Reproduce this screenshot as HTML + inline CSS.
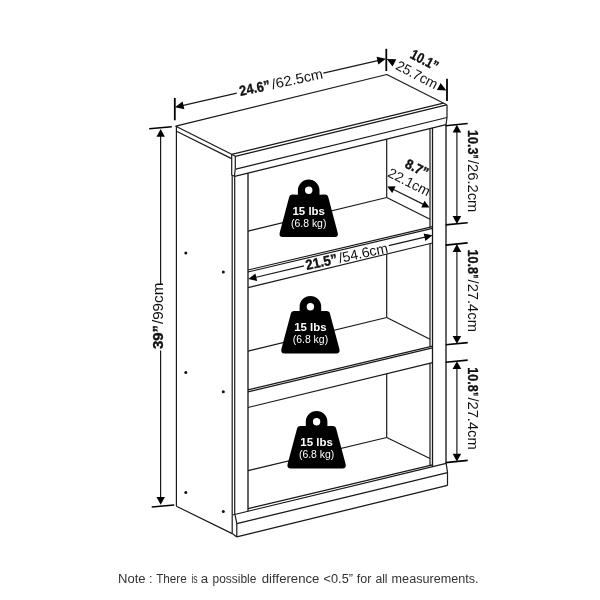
<!DOCTYPE html>
<html><head><meta charset="utf-8"><title>Bookcase dimensions</title>
<style>
html,body{margin:0;padding:0;background:#fff;}
body{width:600px;height:600px;overflow:hidden;font-family:"Liberation Sans",sans-serif;}
svg{display:block;}
svg text{font-family:"Liberation Sans",sans-serif;}
</style></head><body>
<svg width="600" height="600" viewBox="0 0 600 600">
<rect width="600" height="600" fill="#fff"/>
<g opacity="0.999">
<polyline points="231.70,154.30 175.80,126.20 386.80,74.50 446.70,104.80" fill="none" stroke="#1a1a1a" stroke-width="1.2" stroke-linejoin="round"/>
<line x1="231.70" y1="154.30" x2="443.40" y2="103.10" stroke="#1a1a1a" stroke-width="1.2"/>
<line x1="176.50" y1="131.20" x2="231.60" y2="158.60" stroke="#1a1a1a" stroke-width="1.2"/>
<polyline points="231.70,154.30 235.30,156.30 446.70,104.80" fill="none" stroke="#1a1a1a" stroke-width="1.2" stroke-linejoin="round"/>
<polyline points="235.30,156.30 235.30,168.80 234.40,176.20" fill="none" stroke="#1a1a1a" stroke-width="1.2" stroke-linejoin="round"/>
<line x1="235.80" y1="169.10" x2="447.00" y2="117.50" stroke="#1a1a1a" stroke-width="1.2"/>
<polyline points="231.70,154.30 231.70,175.00 234.70,176.30 446.00,124.70" fill="none" stroke="#1a1a1a" stroke-width="1.2" stroke-linejoin="round"/>
<polyline points="447.00,104.80 447.00,117.50 446.00,124.70" fill="none" stroke="#1a1a1a" stroke-width="1.2" stroke-linejoin="round"/>
<line x1="176.40" y1="126.20" x2="176.40" y2="506.20" stroke="#1a1a1a" stroke-width="1.2"/>
<line x1="176.40" y1="506.20" x2="232.20" y2="533.60" stroke="#1a1a1a" stroke-width="1.2"/>
<line x1="232.20" y1="175.20" x2="232.20" y2="533.60" stroke="#1a1a1a" stroke-width="1.2"/>
<line x1="234.70" y1="176.30" x2="234.70" y2="514.40" stroke="#1a1a1a" stroke-width="1.2"/>
<line x1="248.00" y1="173.00" x2="248.00" y2="511.20" stroke="#1a1a1a" stroke-width="1.35"/>
<line x1="432.50" y1="128.00" x2="432.50" y2="466.60" stroke="#1a1a1a" stroke-width="1.3"/>
<line x1="446.00" y1="124.70" x2="446.00" y2="463.40" stroke="#1a1a1a" stroke-width="1.35"/>
<line x1="386.70" y1="139.18" x2="386.70" y2="197.50" stroke="#1a1a1a" stroke-width="1.2"/>
<line x1="386.70" y1="254.10" x2="386.70" y2="317.50" stroke="#1a1a1a" stroke-width="1.2"/>
<line x1="386.70" y1="373.75" x2="386.70" y2="437.50" stroke="#1a1a1a" stroke-width="1.2"/>
<line x1="430.00" y1="128.61" x2="430.00" y2="227.29" stroke="#1a1a1a" stroke-width="1.2"/>
<line x1="430.00" y1="243.61" x2="430.00" y2="346.79" stroke="#1a1a1a" stroke-width="1.2"/>
<line x1="430.00" y1="363.21" x2="430.00" y2="465.49" stroke="#1a1a1a" stroke-width="1.2"/>
<line x1="248.00" y1="231.10" x2="386.70" y2="197.50" stroke="#1a1a1a" stroke-width="1.2"/>
<line x1="386.70" y1="197.50" x2="430.00" y2="219.30" stroke="#1a1a1a" stroke-width="1.2"/>
<line x1="248.00" y1="270.00" x2="432.50" y2="226.70" stroke="#1a1a1a" stroke-width="1.2"/>
<line x1="248.00" y1="272.00" x2="432.50" y2="228.40" stroke="#1a1a1a" stroke-width="1.2"/>
<line x1="248.00" y1="287.70" x2="432.50" y2="243.00" stroke="#1a1a1a" stroke-width="1.2"/>
<line x1="248.00" y1="351.10" x2="386.70" y2="317.50" stroke="#1a1a1a" stroke-width="1.2"/>
<line x1="386.70" y1="317.50" x2="430.00" y2="339.20" stroke="#1a1a1a" stroke-width="1.2"/>
<line x1="248.00" y1="389.80" x2="432.50" y2="346.20" stroke="#1a1a1a" stroke-width="1.2"/>
<line x1="248.00" y1="391.80" x2="432.50" y2="347.90" stroke="#1a1a1a" stroke-width="1.2"/>
<line x1="248.00" y1="407.50" x2="432.50" y2="362.60" stroke="#1a1a1a" stroke-width="1.2"/>
<line x1="248.00" y1="470.70" x2="386.70" y2="437.50" stroke="#1a1a1a" stroke-width="1.2"/>
<line x1="386.70" y1="437.50" x2="430.00" y2="458.50" stroke="#1a1a1a" stroke-width="1.2"/>
<line x1="248.00" y1="508.70" x2="432.50" y2="464.90" stroke="#1a1a1a" stroke-width="1.2"/>
<line x1="232.50" y1="515.00" x2="446.20" y2="463.40" stroke="#1a1a1a" stroke-width="1.2"/>
<polyline points="235.00,514.60 236.80,523.60 236.80,536.90" fill="none" stroke="#1a1a1a" stroke-width="1.2" stroke-linejoin="round"/>
<line x1="236.80" y1="523.60" x2="447.50" y2="472.60" stroke="#1a1a1a" stroke-width="1.2"/>
<line x1="236.80" y1="536.90" x2="447.50" y2="485.40" stroke="#1a1a1a" stroke-width="1.2"/>
<line x1="232.20" y1="533.60" x2="236.80" y2="536.90" stroke="#1a1a1a" stroke-width="1.2"/>
<polyline points="446.20,463.40 447.50,472.60 447.50,485.40" fill="none" stroke="#1a1a1a" stroke-width="1.2" stroke-linejoin="round"/>
<circle cx="185.8" cy="253" r="1.5" fill="#111"/>
<circle cx="223.3" cy="272" r="1.5" fill="#111"/>
<circle cx="185.8" cy="372.5" r="1.5" fill="#111"/>
<circle cx="223.3" cy="391.7" r="1.5" fill="#111"/>
<circle cx="185.8" cy="492.5" r="1.5" fill="#111"/>
<circle cx="223.3" cy="511.5" r="1.5" fill="#111"/>
<line x1="160.60" y1="134.00" x2="160.60" y2="284.20" stroke="#1a1a1a" stroke-width="1.2"/>
<line x1="160.60" y1="350.40" x2="160.60" y2="499.00" stroke="#1a1a1a" stroke-width="1.2"/>
<polygon points="160.70,129.00 164.90,136.80 156.50,136.80" fill="#000"/>
<polygon points="160.70,504.70 156.50,496.90 164.90,496.90" fill="#000"/>
<line x1="149.20" y1="128.70" x2="171.80" y2="126.80" stroke="#000" stroke-width="1.6"/>
<line x1="151.70" y1="507.00" x2="174.20" y2="505.00" stroke="#000" stroke-width="1.6"/>
<line x1="179.00" y1="106.36" x2="236.80" y2="93.05" stroke="#1a1a1a" stroke-width="1.2"/>
<line x1="323.30" y1="73.13" x2="381.00" y2="59.85" stroke="#1a1a1a" stroke-width="1.2"/>
<polygon points="174.90,107.30 182.58,101.43 184.37,109.22" fill="#000"/>
<polygon points="386.00,58.70 378.32,64.57 376.53,56.78" fill="#000"/>
<line x1="174.80" y1="98.00" x2="174.80" y2="120.30" stroke="#000" stroke-width="1.8"/>
<line x1="386.30" y1="48.80" x2="386.30" y2="71.00" stroke="#000" stroke-width="1.8"/>
<polygon points="386.80,58.90 396.27,59.34 392.56,66.43" fill="#000"/>
<polygon points="446.40,90.50 436.93,90.06 440.64,82.97" fill="#000"/>
<line x1="447.00" y1="78.70" x2="447.00" y2="101.00" stroke="#000" stroke-width="1.8"/>
<line x1="391.00" y1="188.24" x2="426.00" y2="205.66" stroke="#1a1a1a" stroke-width="1.2"/>
<polygon points="387.30,186.40 395.62,186.29 392.23,193.10" fill="#000"/>
<polygon points="429.50,207.40 421.18,207.51 424.57,200.70" fill="#000"/>
<line x1="253.00" y1="277.98" x2="304.00" y2="265.86" stroke="#1a1a1a" stroke-width="1.2"/>
<line x1="388.80" y1="245.69" x2="428.00" y2="236.37" stroke="#1a1a1a" stroke-width="1.2"/>
<polygon points="248.30,279.10 255.40,273.51 257.16,280.90" fill="#000"/>
<polygon points="432.50,235.30 425.40,240.89 423.64,233.50" fill="#000"/>
<line x1="456.90" y1="128.70" x2="456.90" y2="219.90" stroke="#1a1a1a" stroke-width="1.2"/>
<polygon points="456.90,124.70 461.20,132.50 452.60,132.50" fill="#000"/>
<polygon points="456.90,223.90 452.60,216.10 461.20,216.10" fill="#000"/>
<line x1="445.60" y1="125.70" x2="467.70" y2="123.50" stroke="#000" stroke-width="1.6"/>
<line x1="445.60" y1="224.90" x2="467.70" y2="222.70" stroke="#000" stroke-width="1.6"/>
<line x1="456.90" y1="248.10" x2="456.90" y2="339.80" stroke="#1a1a1a" stroke-width="1.2"/>
<polygon points="456.90,244.10 461.20,251.90 452.60,251.90" fill="#000"/>
<polygon points="456.90,343.80 452.60,336.00 461.20,336.00" fill="#000"/>
<line x1="445.60" y1="245.10" x2="467.70" y2="242.90" stroke="#000" stroke-width="1.6"/>
<line x1="445.60" y1="344.80" x2="467.70" y2="342.60" stroke="#000" stroke-width="1.6"/>
<line x1="456.90" y1="365.30" x2="456.90" y2="457.60" stroke="#1a1a1a" stroke-width="1.2"/>
<polygon points="456.90,361.30 461.20,369.10 452.60,369.10" fill="#000"/>
<polygon points="456.90,461.60 452.60,453.80 461.20,453.80" fill="#000"/>
<line x1="445.60" y1="362.30" x2="467.70" y2="360.10" stroke="#000" stroke-width="1.6"/>
<line x1="445.60" y1="462.60" x2="467.70" y2="460.40" stroke="#000" stroke-width="1.6"/>
<g transform="translate(308.7,190.3)"><path d="M-10.8,4.4 L-10.8,0 A10.8,10.8 0 0 1 10.8,0 L10.8,4.4 L16.2,4.2 Q19,4.2 19.6,7.0 L29.0,42.4 Q30.0,46.8 26,46.8 L-26,46.8 Q-30.0,46.8 -29.0,42.4 L-19.6,7.0 Q-19,4.2 -16.2,4.2 Z" fill="#000"/><circle cx="0" cy="0" r="3.7" fill="#fff"/><text x="0" y="24.5" text-anchor="middle" font-weight="bold" font-size="11.5" fill="#fff" textLength="32.5" lengthAdjust="spacingAndGlyphs">15 lbs</text><text x="0" y="36.3" text-anchor="middle" font-size="10" fill="#fff" textLength="35.4" lengthAdjust="spacingAndGlyphs">(6.8 kg)</text></g>
<g transform="translate(310.4,306.7)"><path d="M-10.8,4.4 L-10.8,0 A10.8,10.8 0 0 1 10.8,0 L10.8,4.4 L16.2,4.2 Q19,4.2 19.6,7.0 L29.0,42.4 Q30.0,46.8 26,46.8 L-26,46.8 Q-30.0,46.8 -29.0,42.4 L-19.6,7.0 Q-19,4.2 -16.2,4.2 Z" fill="#000"/><circle cx="0" cy="0" r="3.7" fill="#fff"/><text x="0" y="24.5" text-anchor="middle" font-weight="bold" font-size="11.5" fill="#fff" textLength="32.5" lengthAdjust="spacingAndGlyphs">15 lbs</text><text x="0" y="36.3" text-anchor="middle" font-size="10" fill="#fff" textLength="35.4" lengthAdjust="spacingAndGlyphs">(6.8 kg)</text></g>
<g transform="translate(316.6,421.7)"><path d="M-10.8,4.4 L-10.8,0 A10.8,10.8 0 0 1 10.8,0 L10.8,4.4 L16.2,4.2 Q19,4.2 19.6,7.0 L29.0,42.4 Q30.0,46.8 26,46.8 L-26,46.8 Q-30.0,46.8 -29.0,42.4 L-19.6,7.0 Q-19,4.2 -16.2,4.2 Z" fill="#000"/><circle cx="0" cy="0" r="3.7" fill="#fff"/><text x="0" y="24.5" text-anchor="middle" font-weight="bold" font-size="11.5" fill="#fff" textLength="32.5" lengthAdjust="spacingAndGlyphs">15 lbs</text><text x="0" y="36.3" text-anchor="middle" font-size="10" fill="#fff" textLength="35.4" lengthAdjust="spacingAndGlyphs">(6.8 kg)</text></g>
<g transform="translate(240.6,96.1) rotate(-12.2)"><text x="0" y="0" font-weight="bold" font-size="14.2" fill="#111" stroke="#111" stroke-width="0.35" lengthAdjust="spacingAndGlyphs" textLength="31">24.6&#8221;</text><text x="33.0" y="0" font-size="14.2" fill="#111" textLength="52" lengthAdjust="spacingAndGlyphs">/62.5cm</text></g>
<g transform="translate(306.8,270.1) rotate(-12.2)"><text x="0" y="0" font-weight="bold" font-size="14.2" fill="#111" stroke="#111" stroke-width="0.35" lengthAdjust="spacingAndGlyphs" textLength="32">21.5&#8221;</text><text x="33.6" y="0" font-size="14.2" fill="#111" textLength="50.2" lengthAdjust="spacingAndGlyphs">/54.6cm</text></g>
<g transform="translate(163.3,349.1) rotate(-90)"><text x="0" y="0" font-weight="bold" font-size="13.8" fill="#111" stroke="#111" stroke-width="0.35" lengthAdjust="spacingAndGlyphs" textLength="24">39&#8221;</text><text x="25.0" y="0" font-size="13.8" fill="#111" textLength="41.5" lengthAdjust="spacingAndGlyphs">/99cm</text></g>
<g transform="translate(468.4,129.9) rotate(90)"><text x="0" y="0" font-weight="bold" font-size="14.2" fill="#111" stroke="#111" stroke-width="0.35" lengthAdjust="spacingAndGlyphs" textLength="24.5">10.3</text><text x="24.9" y="0" font-weight="bold" font-size="14.2" fill="#111" stroke="#111" stroke-width="0.35" lengthAdjust="spacingAndGlyphs" textLength="3.8">&#8221;</text><text x="30.1" y="0" font-size="14.2" fill="#111" textLength="52.3" lengthAdjust="spacingAndGlyphs">/26.2cm</text></g>
<g transform="translate(468.4,249.5) rotate(90)"><text x="0" y="0" font-weight="bold" font-size="14.2" fill="#111" stroke="#111" stroke-width="0.35" lengthAdjust="spacingAndGlyphs" textLength="24.5">10.8</text><text x="24.9" y="0" font-weight="bold" font-size="14.2" fill="#111" stroke="#111" stroke-width="0.35" lengthAdjust="spacingAndGlyphs" textLength="3.8">&#8221;</text><text x="30.1" y="0" font-size="14.2" fill="#111" textLength="52.3" lengthAdjust="spacingAndGlyphs">/27.4cm</text></g>
<g transform="translate(468.4,367.3) rotate(90)"><text x="0" y="0" font-weight="bold" font-size="14.2" fill="#111" stroke="#111" stroke-width="0.35" lengthAdjust="spacingAndGlyphs" textLength="24.5">10.8</text><text x="24.9" y="0" font-weight="bold" font-size="14.2" fill="#111" stroke="#111" stroke-width="0.35" lengthAdjust="spacingAndGlyphs" textLength="3.8">&#8221;</text><text x="30.1" y="0" font-size="14.2" fill="#111" textLength="52.3" lengthAdjust="spacingAndGlyphs">/27.4cm</text></g>
<g transform="translate(409.3,57.6) rotate(27.5)"><text x="0" y="0" font-weight="bold" font-size="14.2" fill="#111" stroke="#111" stroke-width="0.35" lengthAdjust="spacingAndGlyphs" textLength="29.5">10.1&#8221;</text></g>
<g transform="translate(394.7,68.7) rotate(27.5)"><text font-size="14.2" fill="#111" textLength="45" lengthAdjust="spacingAndGlyphs">25.7cm</text></g>
<g transform="translate(404.0,166.9) rotate(26.5)"><text x="0" y="0" font-weight="bold" font-size="13.8" fill="#111" stroke="#111" stroke-width="0.35" lengthAdjust="spacingAndGlyphs" textLength="24.3">8.7&#8221;</text></g>
<g transform="translate(386.8,175.9) rotate(27)"><text font-size="13.8" fill="#111" textLength="45.5" lengthAdjust="spacingAndGlyphs">22.1cm</text></g>
<text x="118.0" y="582.8" font-size="12.5" fill="#333" textLength="27.6" lengthAdjust="spacingAndGlyphs">Note</text>
<text x="149.0" y="582.8" font-size="12.5" fill="#333">:</text>
<text x="156.2" y="582.8" font-size="12.5" fill="#333" textLength="30.6" lengthAdjust="spacingAndGlyphs">There</text>
<text x="191.4" y="582.8" font-size="12.5" fill="#333" textLength="6.2" lengthAdjust="spacingAndGlyphs">is</text>
<text x="200.8" y="582.8" font-size="12.5" fill="#333" textLength="7.4" lengthAdjust="spacingAndGlyphs">a</text>
<text x="212.6" y="582.8" font-size="12.5" fill="#333" textLength="43.8" lengthAdjust="spacingAndGlyphs">possible</text>
<text x="261.8" y="582.8" font-size="12.5" fill="#333" textLength="57.6" lengthAdjust="spacingAndGlyphs">difference</text>
<text x="323.6" y="582.8" font-size="12.5" fill="#333" textLength="29.4" lengthAdjust="spacingAndGlyphs">&lt;0.5&#8221;</text>
<text x="356.8" y="582.8" font-size="12.5" fill="#333" textLength="14.6" lengthAdjust="spacingAndGlyphs">for</text>
<text x="375.4" y="582.8" font-size="12.5" fill="#333" textLength="12.2" lengthAdjust="spacingAndGlyphs">all</text>
<text x="391.6" y="582.8" font-size="12.5" fill="#333" textLength="87.0" lengthAdjust="spacingAndGlyphs">measurements.</text>
</g>
</svg>
</body></html>
